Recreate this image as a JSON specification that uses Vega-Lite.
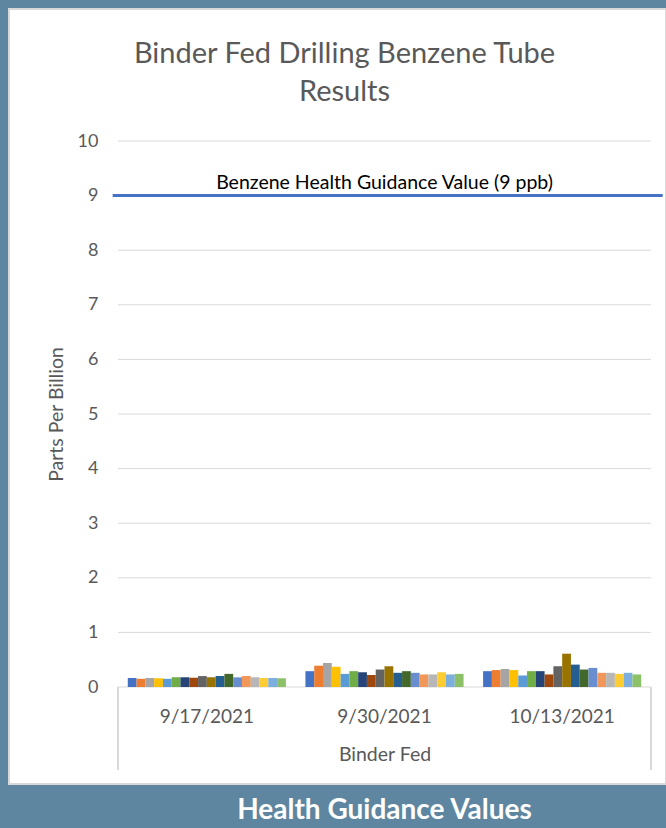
{
  "$schema": "https://vega.github.io/schema/vega-lite/v6.json",
  "width": 657,
  "height": 775,
  "autosize": "none",
  "padding": {"left": 9, "top": 9, "right": 0, "bottom": 44},
  "background": "#5E86A0",
  "title": {
    "text": ["Binder Fed Drilling Benzene Tube", "Results"],
    "font": "Lato",
    "fontSize": 29,
    "fontWeight": "normal",
    "color": "#595959",
    "anchor": "middle",
    "frame": "group",
    "lineHeight": 38,
    "offset": -98,
    "dx": 7
  },
  "datasets": {
    "tubes": [
      {"date": "9/17/2021", "series": "Tube 01", "value": 0.165},
      {"date": "9/17/2021", "series": "Tube 02", "value": 0.15},
      {"date": "9/17/2021", "series": "Tube 03", "value": 0.165},
      {"date": "9/17/2021", "series": "Tube 04", "value": 0.16},
      {"date": "9/17/2021", "series": "Tube 05", "value": 0.15},
      {"date": "9/17/2021", "series": "Tube 06", "value": 0.18},
      {"date": "9/17/2021", "series": "Tube 07", "value": 0.177},
      {"date": "9/17/2021", "series": "Tube 08", "value": 0.17},
      {"date": "9/17/2021", "series": "Tube 09", "value": 0.2},
      {"date": "9/17/2021", "series": "Tube 10", "value": 0.177},
      {"date": "9/17/2021", "series": "Tube 11", "value": 0.2},
      {"date": "9/17/2021", "series": "Tube 12", "value": 0.24},
      {"date": "9/17/2021", "series": "Tube 13", "value": 0.177},
      {"date": "9/17/2021", "series": "Tube 14", "value": 0.2},
      {"date": "9/17/2021", "series": "Tube 15", "value": 0.18},
      {"date": "9/17/2021", "series": "Tube 16", "value": 0.165},
      {"date": "9/17/2021", "series": "Tube 17", "value": 0.165},
      {"date": "9/17/2021", "series": "Tube 18", "value": 0.16},
      {"date": "9/30/2021", "series": "Tube 01", "value": 0.29},
      {"date": "9/30/2021", "series": "Tube 02", "value": 0.39},
      {"date": "9/30/2021", "series": "Tube 03", "value": 0.44},
      {"date": "9/30/2021", "series": "Tube 04", "value": 0.37},
      {"date": "9/30/2021", "series": "Tube 05", "value": 0.24},
      {"date": "9/30/2021", "series": "Tube 06", "value": 0.29},
      {"date": "9/30/2021", "series": "Tube 07", "value": 0.27},
      {"date": "9/30/2021", "series": "Tube 08", "value": 0.22},
      {"date": "9/30/2021", "series": "Tube 09", "value": 0.32},
      {"date": "9/30/2021", "series": "Tube 10", "value": 0.38},
      {"date": "9/30/2021", "series": "Tube 11", "value": 0.26},
      {"date": "9/30/2021", "series": "Tube 12", "value": 0.29},
      {"date": "9/30/2021", "series": "Tube 13", "value": 0.26},
      {"date": "9/30/2021", "series": "Tube 14", "value": 0.23},
      {"date": "9/30/2021", "series": "Tube 15", "value": 0.23},
      {"date": "9/30/2021", "series": "Tube 16", "value": 0.27},
      {"date": "9/30/2021", "series": "Tube 17", "value": 0.23},
      {"date": "9/30/2021", "series": "Tube 18", "value": 0.24},
      {"date": "10/13/2021", "series": "Tube 01", "value": 0.29},
      {"date": "10/13/2021", "series": "Tube 02", "value": 0.31},
      {"date": "10/13/2021", "series": "Tube 03", "value": 0.33},
      {"date": "10/13/2021", "series": "Tube 04", "value": 0.31},
      {"date": "10/13/2021", "series": "Tube 05", "value": 0.21},
      {"date": "10/13/2021", "series": "Tube 06", "value": 0.29},
      {"date": "10/13/2021", "series": "Tube 07", "value": 0.29},
      {"date": "10/13/2021", "series": "Tube 08", "value": 0.23},
      {"date": "10/13/2021", "series": "Tube 09", "value": 0.38},
      {"date": "10/13/2021", "series": "Tube 10", "value": 0.61},
      {"date": "10/13/2021", "series": "Tube 11", "value": 0.41},
      {"date": "10/13/2021", "series": "Tube 12", "value": 0.32},
      {"date": "10/13/2021", "series": "Tube 13", "value": 0.35},
      {"date": "10/13/2021", "series": "Tube 14", "value": 0.26},
      {"date": "10/13/2021", "series": "Tube 15", "value": 0.26},
      {"date": "10/13/2021", "series": "Tube 16", "value": 0.24},
      {"date": "10/13/2021", "series": "Tube 17", "value": 0.26},
      {"date": "10/13/2021", "series": "Tube 18", "value": 0.23}
    ],
    "grid": [
      {"value": 0}, {"value": 1}, {"value": 2}, {"value": 3}, {"value": 4}, {"value": 5},
      {"value": 6}, {"value": 7}, {"value": 8}, {"value": 9}, {"value": 10}
    ],
    "guide": [
      {"label": "Benzene Health Guidance Value (9 ppb)", "value": 9}
    ],
    "footer": [
      {"label": "Health Guidance Values"}
    ]
  },
  "layer": [
    {
      "data": {"name": "grid"},
      "mark": {"type": "rule", "color": "#D9D9D9", "strokeWidth": 1},
      "encoding": {
        "x": {"datum": 0, "type": "quantitative", "scale": {"domain": [0, 1], "range": [109, 642]}, "axis": null},
        "x2": {"datum": 1},
        "y": {"field": "value", "type": "quantitative", "title": "Parts Per Billion", "scale": {"domain": [0, 10], "range": [678, 132], "nice": false, "zero": false}}
      }
    },
    {
      "data": {"name": "tubes"},
      "mark": {"type": "bar"},
      "encoding": {
        "x": {
          "field": "date", "type": "nominal", "sort": ["9/17/2021", "9/30/2021", "10/13/2021"],
          "scale": {"range": [109, 642], "paddingInner": 0.11, "paddingOuter": 0.055},
          "axis": {
            "title": "Binder Fed", "offset": -97, "domain": false, "ticks": false, "tickSize": 0, "grid": false,
            "labelAngle": 0, "labelPadding": 20, "labelFontSize": 19, "labelColor": "#595959",
            "titleFontSize": 19.5, "titleColor": "#595959", "titleFontWeight": "normal", "titlePadding": 19
          }
        },
        "xOffset": {"field": "series", "type": "nominal", "sort": "ascending", "scale": {"paddingInner": 0, "paddingOuter": 0}},
        "y": {
          "field": "value", "type": "quantitative", "title": "Parts Per Billion",
          "scale": {"domain": [0, 10], "range": [678, 132], "nice": false, "zero": false},
          "axis": {
            "values": [0, 1, 2, 3, 4, 5, 6, 7, 8, 9, 10], "format": "d", "offset": -109, "grid": false, "domain": false,
            "ticks": false, "tickSize": 0, "labelPadding": 20, "labelFontSize": 18, "labelColor": "#595959",
            "titleFontSize": 19.5, "titleColor": "#595959", "titleFontWeight": "normal", "titlePadding": 11
          }
        },
        "color": {
          "field": "series", "type": "nominal", "sort": "ascending", "legend": null,
          "scale": {"range": ["#4472C4", "#ED7D31", "#A5A5A5", "#FFC000", "#5B9BD5", "#70AD47", "#264478", "#9E480E", "#636363", "#997300", "#255E91", "#43682B", "#698ED0", "#F1975A", "#B7B7B7", "#FFCD33", "#7CAFDD", "#8CC168"]}
        }
      }
    },
    {
      "data": {"name": "footer"},
      "mark": {"type": "rule", "color": "#D9D9D9", "strokeWidth": 2},
      "encoding": {
        "x": {"datum": 0, "type": "quantitative", "scale": {"domain": [0, 1], "range": [109, 642]}, "axis": null},
        "y": {"datum": 0, "type": "quantitative", "title": "Parts Per Billion", "scale": {"domain": [0, 10], "range": [678, 132], "nice": false, "zero": false}},
        "y2": {"datum": -1.52}
      }
    },
    {
      "data": {"name": "footer"},
      "mark": {"type": "rule", "color": "#D9D9D9", "strokeWidth": 2},
      "encoding": {
        "x": {"datum": 1, "type": "quantitative", "scale": {"domain": [0, 1], "range": [109, 642]}, "axis": null},
        "y": {"datum": 0, "type": "quantitative", "title": "Parts Per Billion", "scale": {"domain": [0, 10], "range": [678, 132], "nice": false, "zero": false}},
        "y2": {"datum": -1.52}
      }
    },
    {
      "data": {"name": "guide"},
      "mark": {"type": "rule", "color": "#4472C4", "strokeWidth": 3},
      "encoding": {
        "x": {"datum": -0.01, "type": "quantitative", "scale": {"domain": [0, 1], "range": [109, 642]}, "axis": null},
        "x2": {"datum": 1.022},
        "y": {"field": "value", "type": "quantitative", "title": "Parts Per Billion", "scale": {"domain": [0, 10], "range": [678, 132], "nice": false, "zero": false}}
      }
    },
    {
      "data": {"name": "guide"},
      "mark": {"type": "text", "color": "#000000", "fontSize": 19.5, "font": "Lato", "baseline": "alphabetic", "dy": -7},
      "encoding": {
        "x": {"datum": 0.5, "type": "quantitative", "scale": {"domain": [0, 1], "range": [109, 642]}, "axis": null},
        "y": {"field": "value", "type": "quantitative", "title": "Parts Per Billion", "scale": {"domain": [0, 10], "range": [678, 132], "nice": false, "zero": false}},
        "text": {"field": "label"}
      }
    },
    {
      "data": {"name": "footer"},
      "mark": {"type": "text", "color": "#FFFFFF", "fontSize": 28, "font": "Lato", "fontWeight": "bold", "baseline": "middle"},
      "encoding": {
        "x": {"datum": 0.5, "type": "quantitative", "scale": {"domain": [0, 1], "range": [109, 642]}, "axis": null},
        "y": {"datum": -2.27, "type": "quantitative", "title": "Parts Per Billion", "scale": {"domain": [0, 10], "range": [678, 132], "nice": false, "zero": false}},
        "text": {"field": "label"}
      }
    }
  ],
  "resolve": {"scale": {"x": "independent"}, "axis": {"x": "independent"}},
  "config": {
    "font": "Lato",
    "view": {"fill": "#FFFFFF", "stroke": "#D9D9D9", "strokeWidth": 2}
  }
}
